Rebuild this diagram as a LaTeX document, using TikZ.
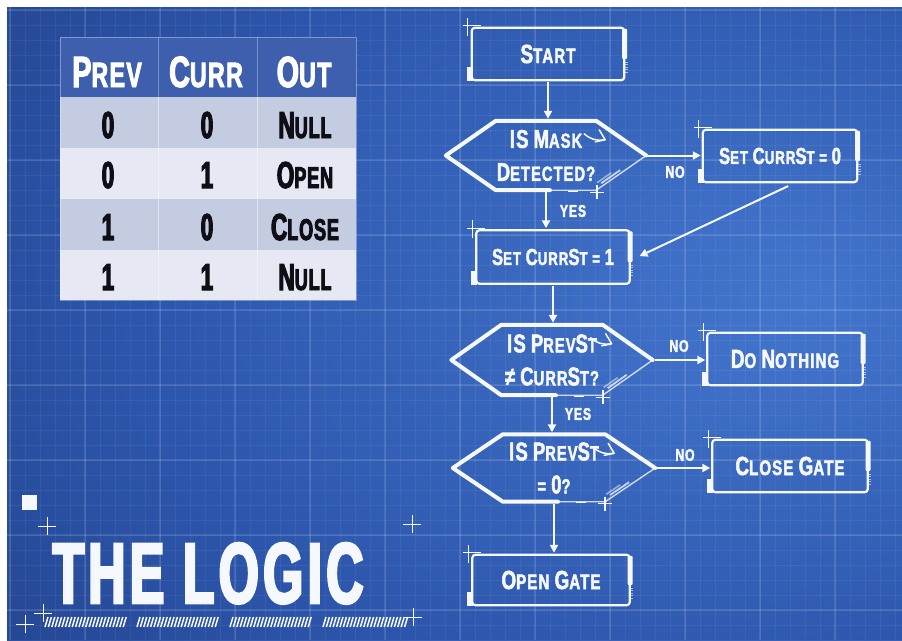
\documentclass[tikz,border=0pt]{standalone}
\usepackage{fontspec}
\usepackage{graphicx}
\usetikzlibrary{arrows.meta,calc}
\setmainfont{Liberation Sans}
\newfontfamily\logofont[FakeStretch=0.6,FakeBold=3,LetterSpace=5]{Liberation Sans}
\newfontfamily\headfont[FakeStretch=0.66,FakeBold=2.5,LetterSpace=4]{Liberation Sans}
\newfontfamily\cellfont[FakeStretch=0.6,FakeBold=3,LetterSpace=3]{Liberation Sans}
\newfontfamily\flowfont[FakeStretch=0.72,FakeBold=2,LetterSpace=5]{Liberation Sans}
% a capital drawn larger than the small capitals around it
\newcommand\Cp[1]{\scalebox{1.25}{#1}}

\definecolor{bgdark}{RGB}{26,48,112}
\definecolor{bgmid}{RGB}{44,86,172}
\definecolor{bglight}{RGB}{68,118,206}
\definecolor{tabhead}{RGB}{62,94,174}
\definecolor{rowA}{RGB}{196,204,226}
\definecolor{rowB}{RGB}{230,233,243}
\definecolor{ink}{RGB}{14,14,20}
\definecolor{chalk}{RGB}{246,248,255}

\pgfdeclareradialshading{bluebg}{\pgfpoint{20bp}{2bp}}{%
  color(0bp)=(bglight); color(30bp)=(bgmid); color(64bp)=(bgdark); color(80bp)=(bgdark)}

% frame around a process box
\newcommand\procdeco[1]{%
  \draw[frameline, rounded corners=3pt] (#1.north west) -- (#1.north east) -- (#1.south east) -- (#1.south west) -- cycle;
  \fill[chalk, rounded corners=1pt] ($(#1.north east)+(-2,1)$) rectangle ($(#1.east)+(3,5)$);
  \foreach \k in {0,...,4} \draw[chalk, line width=0.7pt, opacity=0.6] ($(#1.east)+(0,8+2.6*\k)$) -- ++(3.5,0);
  \fill[chalk] ($(#1.south west)+(-5,-13)$) rectangle ($(#1.south west)+(1,1)$);
  \draw[thinline] ($(#1.north west)+(-9,-2)$) -- ++(18,0);
  \draw[thinline] ($(#1.north west)+(-4,-10)$) -- ++(0,18);
}

% hexagonal outline around a decision node; #2 is the chamfer
\newcommand\hexdeco[2]{%
  \coordinate (#1-tl) at ($(#1.north west)+(#2,0)$);
  \coordinate (#1-tr) at ($(#1.north east)+(-#2,0)$);
  \coordinate (#1-bl) at ($(#1.south west)+(#2,0)$);
  \coordinate (#1-br) at ($(#1.south east)+(-#2,0)$);
  \draw[hexline] ($(#1.south)+(4,0)$) -- (#1-bl) -- (#1.west) -- (#1-tl) -- (#1-tr) -- (#1.east);
  \draw[chalk, line width=1.4pt, opacity=0.8] (#1.east) -- (#1-br) -- ($(#1.south)+(4,0)$);
  \draw[chalk, line width=1.8pt, opacity=0.75] ($(#1.east)!0.42!(#1-br)+(-5,0)$) -- ($(#1.east)!0.8!(#1-br)+(-5,0)$);
  \draw[chalk, line width=1.6pt, opacity=0.5] ($(#1.east)!0.5!(#1-br)+(-10,0)$) -- ($(#1.east)!0.78!(#1-br)+(-10,0)$);
  \draw[chalk, line width=1.5pt, line cap=round] ($(#1-tr)+(-12,13)$) to[bend right=25] ($(#1-tr)+(8,19)$);
  \draw[chalk, line width=1.5pt, line cap=round, line join=round] ($(#1-tr)+(3,9)$) -- ($(#1-tr)+(9,19)$) -- ($(#1-tr)+(-1,21)$);
  \draw[chalk, line width=1.3pt] ($(#1.south)+(22,1)$) -- ++(10,0);
  \draw[chalk, line width=1.3pt] ($(#1.south)+(44,2)$) -- ++(14,0);
  \draw[chalk, line width=1.3pt] ($(#1.south)+(51,-5)$) -- ++(0,14);
}

\begin{document}
\begin{tikzpicture}[x=1pt,y=-1pt,
  frameline/.style={draw=chalk, line width=2.2pt},
  thinline/.style={draw=chalk, line width=0.9pt},
  hexline/.style={draw=chalk, line width=4pt, line join=round, line cap=round},
  procbox/.style={rectangle, inner sep=0pt, text=chalk, align=center,
    font=\flowfont\bfseries\fontsize{21}{24}\selectfont},
  smallbox/.style={procbox, font=\flowfont\bfseries\fontsize{18.5}{20}\selectfont},
  decision/.style={rectangle, inner sep=0pt, text=chalk, align=center,
    font=\flowfont\bfseries\fontsize{20.5}{33}\selectfont},
  branchlabel/.style={inner sep=0pt, text=chalk, font=\flowfont\bfseries\fontsize{17}{17}\selectfont},
  arrowline/.style={draw=chalk, line width=2pt, -{Triangle[length=8pt,width=8pt]},
    shorten <=2pt, shorten >=2pt},
  headtxt/.style={anchor=base, inner sep=0pt, text=white,
    font=\headfont\bfseries\fontsize{35}{35}\selectfont},
  celltxt/.style={anchor=base, inner sep=0pt, text=ink,
    font=\cellfont\bfseries\fontsize{30}{30}\selectfont},
  logotxt/.style={anchor=base, inner sep=0pt, text=chalk,
    font=\logofont\bfseries\fontsize{86}{86}\selectfont}
]
\useasboundingbox (0,0) rectangle (902,640);
\fill[white] (0,0) rectangle (902,640);
\shade[shading=bluebg] (7,7) rectangle (902,640);

% blueprint grid
\begin{scope}
  \clip (7,7) rectangle (902,640);
  \foreach \gx in {10,25,...,900} \draw[white, opacity=0.06, line width=0.6pt] (\gx,7) -- (\gx,640);
  \foreach \gy in {10,25,...,640} \draw[white, opacity=0.06, line width=0.6pt] (7,\gy) -- (902,\gy);
  \foreach \gx in {10,85,...,900} \draw[white, opacity=0.11, line width=1.1pt] (\gx,7) -- (\gx,640);
  \foreach \gy in {10,85,...,640} \draw[white, opacity=0.11, line width=1.1pt] (7,\gy) -- (902,\gy);
\end{scope}

% truth table
\fill[tabhead] (60,37) rectangle (356,97);
\fill[rowA] (60,97) rectangle (356,148);
\fill[rowB] (60,148) rectangle (356,199);
\fill[rowA] (60,199) rectangle (356,250);
\fill[rowB] (60,250) rectangle (356,300);
\draw[white, opacity=0.3, line width=0.8pt] (158,37) -- (158,97) (257,37) -- (257,97);
\draw[white, opacity=0.45, line width=0.8pt] (158,97) -- (158,300) (257,97) -- (257,300);
\draw[white, opacity=0.35, line width=1pt] (60,37) rectangle (356,300);

\node[headtxt] (hprev) at (107,87) {\Cp{P}REV};
\node[headtxt] (hcurr) at (206,87) {\Cp{C}URR};
\node[headtxt] (hout)  at (304,87) {\Cp{O}UT};

\node[celltxt] (a1) at (108,138) {\Cp{0}};
\node[celltxt] (b1) at (207,138) {\Cp{0}};
\node[celltxt] (c1) at (305,138) {\Cp{N}ULL};
\node[celltxt] (a2) at (108,188) {\Cp{0}};
\node[celltxt] (b2) at (207,188) {\Cp{1}};
\node[celltxt] (c2) at (305,188) {\Cp{O}PEN};
\node[celltxt] (a3) at (108,240) {\Cp{1}};
\node[celltxt] (b3) at (207,240) {\Cp{0}};
\node[celltxt] (c3) at (305,240) {\Cp{C}LOSE};
\node[celltxt] (a4) at (108,290) {\Cp{1}};
\node[celltxt] (b4) at (207,290) {\Cp{1}};
\node[celltxt] (c4) at (305,290) {\Cp{N}ULL};

% flowchart nodes
\node[procbox, minimum width=152, minimum height=52] (start) at (548,54) {\Cp{S}TART};
\node[decision, minimum width=200, minimum height=69] (d1) at (546,155.5) {\Cp{IS} \Cp{M}ASK\\\Cp{D}ETECTED?};
\node[smallbox, minimum width=154, minimum height=52] (s0) at (780,156) {\Cp{S}ET \Cp{C}URR\Cp{S}T = \Cp{0}};
\node[smallbox, minimum width=153, minimum height=53] (s1) at (553,257) {\Cp{S}ET \Cp{C}URR\Cp{S}T = \Cp{1}};
\node[decision, minimum width=201, minimum height=70] (d2) at (552,360) {\Cp{IS} \Cp{P}REV\Cp{S}T\\\Cp{≠} \Cp{C}URR\Cp{S}T?};
\node[procbox, minimum width=155, minimum height=52] (dn) at (785,359) {\Cp{D}O \Cp{N}OTHING};
\node[decision, minimum width=202, minimum height=67] (d3) at (554,468) {\Cp{IS} \Cp{P}REV\Cp{S}T\\= \Cp{0}?};
\node[procbox, minimum width=155, minimum height=52] (cg) at (790,466) {\Cp{C}LOSE \Cp{G}ATE};
\node[procbox, minimum width=157, minimum height=50] (og) at (551,580) {\Cp{O}PEN \Cp{G}ATE};

\procdeco{start}
\procdeco{s0}
\procdeco{s1}
\procdeco{dn}
\procdeco{cg}
\procdeco{og}
\hexdeco{d1}{50}
\hexdeco{d2}{50}
\hexdeco{d3}{50}

% connectors
\draw[arrowline] (start.south) -- (start.south |- d1.north);
\draw[arrowline] (d1.south) -- (d1.south |- s1.north);
\draw[arrowline] (d1.east) -- (d1.east -| s0.west);
\draw[arrowline] ($(s0.south)+(10,3)$) -- ($(s1.east)+(8,0)$);
\draw[arrowline] (s1.south) -- (s1.south |- d2.north);
\draw[arrowline] (d2.east) -- (d2.east -| dn.west);
\draw[arrowline] (d2.south) -- (d2.south |- d3.north);
\draw[arrowline] (d3.east) -- (d3.east -| cg.west);
\draw[arrowline] (d3.south) -- (d3.south |- og.north);

\node[branchlabel] (no1) at (675,172) {NO};
\node[branchlabel] (yes1) at (573,211) {YES};
\node[branchlabel] (no2) at (679,346) {NO};
\node[branchlabel] (yes2) at (578,414) {YES};
\node[branchlabel] (no3) at (685,455) {NO};

% title block
\node[logotxt] (logo) at (208,603) {THE LOGIC};
\fill[chalk] (22,495) rectangle (37,510);
\foreach \cx/\cy in {47/526, 412/524, 43/613, 25/624, 413/617} {
  \draw[thinline] (\cx-9,\cy) -- (\cx+9,\cy);
  \draw[thinline] (\cx,\cy-9) -- (\cx,\cy+9);
}
\foreach \a/\b in {45/127,137/220,230/313,323/410} {
  \pgfmathsetmacro\nst{int((\b-\a-3)/3.4)}
  \foreach \k in {0,...,\nst} \draw[chalk, line width=1.5pt] (\a+\k*3.4,627) -- ++(3,-10);
}
\end{tikzpicture}
\end{document}
